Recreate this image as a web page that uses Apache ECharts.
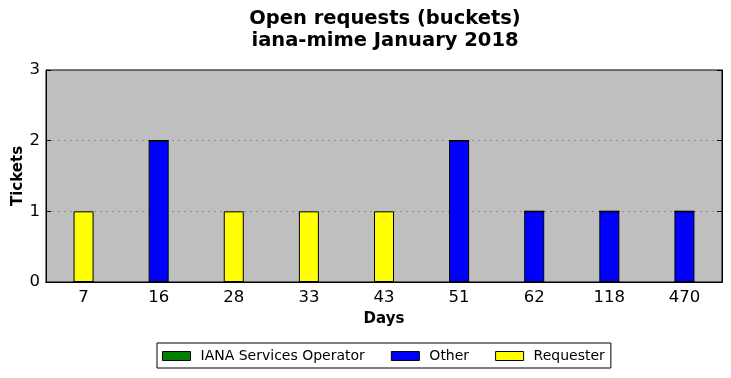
<!DOCTYPE html>
<html>
<head>
<meta charset="utf-8">
<script src="https://cdn.jsdelivr.net/npm/echarts@6/dist/echarts.min.js"></script>
<style>
  html, body { margin: 0; padding: 0; background: #fff; }
  #chart { width: 731px; height: 378px; }
</style>
</head>
<body>
<div id="chart"></div>
<script>
// bucket categories (days open)
const days = ["7", "16", "28", "33", "43", "51", "62", "118", "470"];
// ticket counts per series
const ianaOperator = [0, 0, 0, 0, 0, 0, 0, 0, 0];
const other = [0, 2, 0, 0, 0, 2, 1, 1, 1];
const requester = [1, 0, 1, 1, 1, 0, 0, 0, 0];
const yTicks = [0, 1, 2, 3];

const font = "DejaVu Sans";
const chart = echarts.init(document.getElementById("chart"));

function barSeries(name, data, color) {
  return {
    name: name,
    type: "bar",
    stack: "total",
    barWidth: 20,
    data: data,
    itemStyle: { color: color, borderColor: "#000", borderWidth: 1 },
  };
}

const option = {
  animation: false,
  textStyle: { fontFamily: font },
  title: {
    text: "Open requests (buckets)\niana-mime January 2018",
    left: 380,
    top: 3,
    textAlign: "center",
    textStyle: { fontFamily: font, fontSize: 19.5, fontWeight: "bold", lineHeight: 22, color: "#000" },
  },
  legend: {
    data: ["IANA Services Operator", "Other", "Requester"],
    left: 157,
    top: 343,
    padding: [6, 6, 5, 5],
    itemGap: 26,
    itemWidth: 28,
    itemHeight: 9,
    borderColor: "#000",
    borderWidth: 1,
    borderRadius: 0,
    icon: "rect",
    itemStyle: { borderColor: "#000", borderWidth: 1 },
    textStyle: { fontFamily: font, fontSize: 14, color: "#000", padding: [0, 0, 0, 5] },
  },
  grid: {
    left: 46,
    right: 9,
    top: 70,
    bottom: 96,
    outerBoundsMode: "none",
    containLabel: false,
    show: true,
    backgroundColor: "#bfbfbf",
    borderColor: "#000",
    borderWidth: 1,
  },
  xAxis: [
    {
      type: "category",
      data: days,
      position: "bottom",
      name: "Days",
      nameLocation: "middle",
      nameGap: 30,
      nameMoveOverlap: false,
      nameTextStyle: { fontFamily: font, fontSize: 15, fontWeight: "bold", color: "#000" },
      axisLine: { lineStyle: { color: "#000" } },
      axisTick: { inside: true, alignWithLabel: true, length: 5, lineStyle: { color: "#000" } },
      axisLabel: { fontFamily: font, fontSize: 16.5, color: "#000", margin: 7 },
    },
    {
      type: "category",
      data: days,
      position: "top",
      axisLine: { lineStyle: { color: "#000" } },
      axisTick: { inside: true, alignWithLabel: true, length: 5, lineStyle: { color: "#000" } },
      axisLabel: { show: false },
    },
  ],
  yAxis: [
    {
      type: "value",
      min: yTicks[0],
      max: yTicks[yTicks.length - 1],
      interval: 1,
      name: "Tickets",
      nameLocation: "middle",
      nameGap: 20,
      nameMoveOverlap: false,
      nameTextStyle: { fontFamily: font, fontSize: 15, fontWeight: "bold", color: "#000" },
      axisLine: { show: true, lineStyle: { color: "#000" } },
      axisTick: { show: true, inside: true, length: 5, lineStyle: { color: "#000" } },
      axisLabel: { fontFamily: font, fontSize: 16.5, color: "#000", margin: 6 },
      splitLine: {
        show: true,
        showMinLine: false,
        showMaxLine: false,
        lineStyle: { color: "#8c8c8c", type: [2, 4], width: 1 },
      },
    },
    {
      type: "value",
      min: yTicks[0],
      max: yTicks[yTicks.length - 1],
      interval: 1,
      position: "right",
      axisLine: { show: true, lineStyle: { color: "#000" } },
      axisTick: { show: true, inside: true, length: 5, lineStyle: { color: "#000" } },
      axisLabel: { show: false },
      splitLine: { show: false },
    },
  ],
  series: [
    barSeries("IANA Services Operator", ianaOperator, "#008000"),
    barSeries("Other", other, "#0000ff"),
    barSeries("Requester", requester, "#ffff00"),
  ],
};

chart.setOption(option);
</script>
</body>
</html>
